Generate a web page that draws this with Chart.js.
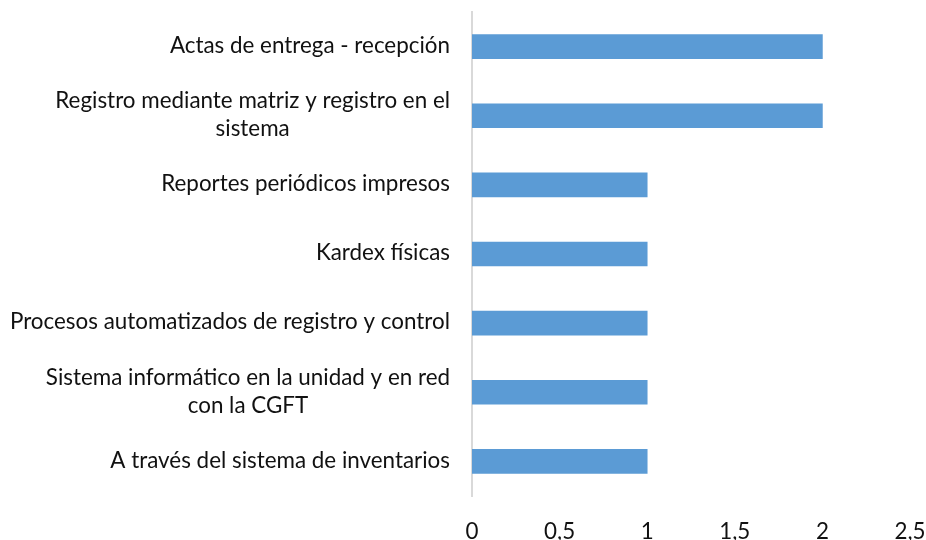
<!DOCTYPE html>
<html>
<head>
<meta charset="utf-8">
<script src="https://cdn.jsdelivr.net/npm/chart.js@4"></script>
<style>
  html, body { margin: 0; padding: 0; background: #fff; }
  #wrap { width: 926px; height: 540px; }
</style>
</head>
<body>
<div id="wrap"><canvas id="barChart"></canvas></div>
<script>
const categories = [
    'Actas de entrega - recepción',
    ['Registro mediante matriz y registro en el', 'sistema'],
    'Reportes periódicos impresos',
    'Kardex físicas',
    'Procesos automatizados de registro y control',
    ['Sistema informático en la unidad y en red', 'con la CGFT'],
    'A través del sistema de inventarios'
];
const values = [2, 2, 1, 1, 1, 1, 1];
const xTicks = [0, 0.5, 1, 1.5, 2, 2.5];

const FONT = 'Lato, "Noto Sans", sans-serif';
const FONT_SIZE = 22.4;
const TEXT = '#111';

// labels drawn by hand so that two-line labels are centred within their block
const yLabels = {
    id: 'yLabels',
    afterDraw(chart) {
        const s = chart.scales.y;
        const ctx = chart.ctx;
        ctx.save();
        ctx.font = FONT_SIZE + 'px ' + FONT;
        ctx.fillStyle = TEXT;
        ctx.textAlign = 'center';
        ctx.textBaseline = 'middle';
        const right = s.right - 22;
        const lh = 28;
        categories.forEach((lab, i) => {
            const lines = Array.isArray(lab) ? lab : [lab];
            const w = Math.max(...lines.map(l => ctx.measureText(l).width));
            const cx = right - w / 2;
            const y0 = s.getPixelForTick(i) - (lines.length - 1) * lh / 2 - 1;
            lines.forEach((l, k) => ctx.fillText(l, cx, y0 + k * lh));
        });
        ctx.restore();
    }
};

new Chart(document.querySelector('#barChart'), {
    type: 'bar',
    data: {
        labels: categories,
        datasets: [{
            data: values,
            backgroundColor: '#5b9bd5',
            barThickness: 24
        }]
    },
    options: {
        indexAxis: 'y',
        responsive: true,
        maintainAspectRatio: false,
        animation: false,
        layout: { padding: { top: 12, right: 4, left: 0, bottom: 0 } },
        plugins: {
            legend: { display: false },
            tooltip: { enabled: false }
        },
        scales: {
            x: {
                min: 0,
                max: 2.5,
                afterBuildTicks: s => { s.ticks = xTicks.map(v => ({ value: v })); },
                afterFit: s => { s.height = 44; s.paddingRight = 16; s.paddingLeft = 0; },
                grid: { display: false, drawTicks: false },
                border: { display: false },
                ticks: {
                    padding: 22,
                    color: TEXT,
                    font: { family: FONT, size: FONT_SIZE },
                    callback: v => String(v).replace('.', ',')
                }
            },
            y: {
                afterFit: s => { s.width = 472; },
                grid: { display: false, drawTicks: false },
                border: { display: true, color: '#d9d9d9', width: 2 },
                ticks: { color: 'transparent', font: { family: FONT, size: 12 } }
            }
        }
    },
    plugins: [yLabels]
});
</script>
</body>
</html>
